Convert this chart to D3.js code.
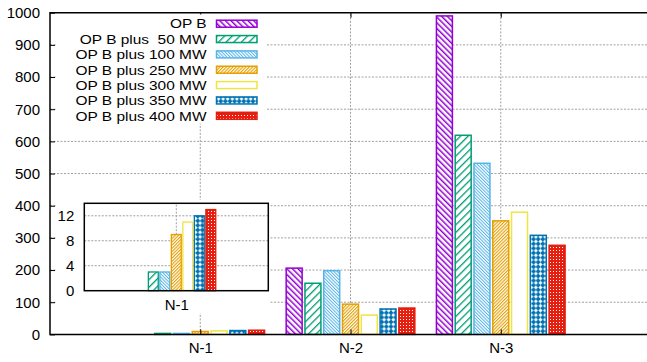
<!DOCTYPE html>
<html>
<head>
<meta charset="utf-8">
<script src="https://cdn.jsdelivr.net/npm/d3@7"></script>
<style>
  html, body { margin: 0; padding: 0; background: #fff; }
  svg { display: block; font-family: "Liberation Sans", Arial, Helvetica, sans-serif; }
  text { white-space: pre; }
</style>
</head>
<body>
<svg id="chart" width="647" height="362"></svg>
<script>
// ---------------- data ----------------
const categories = ["N-1", "N-2", "N-3"];
const seriesNames = ["OP B", "OP B plus  50 MW", "OP B plus 100 MW", "OP B plus 250 MW",
                     "OP B plus 300 MW", "OP B plus 350 MW", "OP B plus 400 MW"];
const opB      = [0, 206, 990];
const plus50   = [3, 159, 619];
const plus100  = [3, 198, 532];
const plus250  = [9, 94, 353];
const plus300  = [11, 60, 380];
const plus350  = [12, 79, 308];
const plus400  = [13, 82, 277];
const yTicks = [0, 100, 200, 300, 400, 500, 600, 700, 800, 900, 1000];
const insetCategories = ["N-1"];
const insetTicks = [0, 4, 8, 12];

const seriesValues = [opB, plus50, plus100, plus250, plus300, plus350, plus400];
const colors = ["#9400d3", "#009e73", "#56b4e9", "#e69f00", "#f0e442", "#0072b2", "#e51e10"];

// ---------------- setup ----------------
const svg = d3.select("#chart");
const FONT = 15;

const defs = svg.append("defs");
function stripes(id, color, period, width, angle) {
  const p = defs.append("pattern").attr("id", id).attr("patternUnits", "userSpaceOnUse")
    .attr("width", period).attr("height", period)
    .attr("patternTransform", `rotate(${angle})`);
  p.append("rect").attr("width", period).attr("height", period).attr("fill", "#fff");
  p.append("rect").attr("x", 0).attr("y", 0).attr("width", width).attr("height", period).attr("fill", color);
}
stripes("pat0", colors[0], 4.0, 1.5, -45);
stripes("pat1", colors[1], 5.4, 1.3, 45);
stripes("pat2", colors[2], 2.3, 1.0, -45);
stripes("pat3", colors[3], 2.3, 1.1, 45);
(function () {
  const p = defs.append("pattern").attr("id", "pat4").attr("patternUnits", "userSpaceOnUse")
    .attr("width", 4).attr("height", 4);
  p.append("rect").attr("width", 4).attr("height", 4).attr("fill", "#fff");
})();
(function () {
  const s = 4.6;
  const p = defs.append("pattern").attr("id", "pat5").attr("patternUnits", "userSpaceOnUse")
    .attr("width", s).attr("height", s);
  p.append("rect").attr("width", s).attr("height", s).attr("fill", colors[5]);
  p.append("rect").attr("x", s / 2 - 1.4).attr("y", s / 2 - 1.4).attr("width", 2.8).attr("height", 2.8)
    .attr("fill", "#fff").attr("transform", `rotate(45 ${s / 2} ${s / 2})`);
})();
(function () {
  const s = 3;
  const p = defs.append("pattern").attr("id", "pat6").attr("patternUnits", "userSpaceOnUse")
    .attr("width", s).attr("height", s);
  p.append("rect").attr("width", s).attr("height", s).attr("fill", colors[6]);
  p.append("rect").attr("x", 1).attr("y", 1).attr("width", 1).attr("height", 1).attr("fill", "#fff");
})();

const nS = seriesNames.length;
const slotFrac = 1 / (nS + 1);

// ---------------- main plot ----------------
const x = d3.scaleLinear().domain([0, 4]).range([50, 651]);
const y = d3.scaleLinear().domain([0, 1000]).range([334.4, 12.7]);
const catPos = (i) => i + 1;

const gridColor = "#a0a0a0";
const grid = svg.append("g");
grid.selectAll("line.h").data(yTicks.filter(t => t > 0 && t < 1000)).join("line")
  .attr("x1", x(0)).attr("x2", x(4)).attr("y1", d => y(d)).attr("y2", d => y(d))
  .attr("stroke", gridColor).attr("stroke-width", 1).attr("stroke-dasharray", "2,1.5");
grid.selectAll("line.v").data(categories).join("line")
  .attr("x1", (d, i) => x(catPos(i))).attr("x2", (d, i) => x(catPos(i)))
  .attr("y1", y(0)).attr("y2", y(1000))
  .attr("stroke", gridColor).attr("stroke-width", 1).attr("stroke-dasharray", "2,1.5");

// bars
const slotPx = x(slotFrac) - x(0);
const barW = slotPx * 0.85;
const bars = svg.append("g");
seriesValues.forEach((vals, s) => {
  bars.selectAll(null).data(vals.map((v, i) => ({ v, i })).filter(d => d.v > 0)).join("rect")
    .attr("x", d => x(catPos(d.i) + (s - (nS - 1) / 2) * slotFrac) - barW / 2)
    .attr("y", d => y(d.v))
    .attr("width", barW)
    .attr("height", d => y(0) - y(d.v))
    .attr("fill", `url(#pat${s})`)
    .attr("stroke", colors[s]).attr("stroke-width", 1.5);
});

// axes
const axisG = svg.append("g");
const yAxis = d3.axisLeft(y).tickValues(yTicks).tickSize(-5).tickPadding(10).tickFormat(d3.format("d"));
const ya = axisG.append("g").attr("transform", `translate(${x(0)},0)`).call(yAxis);
ya.select(".domain").remove();
ya.selectAll("line").attr("stroke", "#000");
ya.selectAll("text").attr("font-size", FONT).attr("fill", "#000").attr("font-family", null);

const xAxis = d3.axisBottom(x).tickValues(categories.map((c, i) => catPos(i)))
  .tickFormat((d, i) => categories[i]).tickSize(-5).tickPadding(8);
const xa = axisG.append("g").attr("transform", `translate(0,${y(0)})`).call(xAxis);
xa.select(".domain").remove();
xa.selectAll("line").attr("stroke", "#000");
xa.selectAll("text").attr("font-size", FONT).attr("fill", "#000").attr("font-family", null);

const xTop = d3.axisTop(x).tickValues(categories.map((c, i) => catPos(i))).tickFormat("").tickSize(-5);
const xt = axisG.append("g").attr("transform", `translate(0,${y(1000)})`).call(xTop);
xt.select(".domain").remove();
xt.selectAll("line").attr("stroke", "#000");

svg.append("path")
  .attr("d", `M${x(4)},${y(1000)}H${x(0)}V${y(0)}H${x(4)}`)
  .attr("fill", "none").attr("stroke", "#000").attr("stroke-width", 1.5);

// ---------------- legend ----------------
svg.append("rect").attr("x", 57).attr("y", 14.5).attr("width", 209).attr("height", 109).attr("fill", "#fff");
const leg = svg.append("g");
const rowY = (i) => 23.7 + i * 15.35;
const LEGFONT = 13.2;
const legText = leg.selectAll("text").data(seriesNames).join("text")
  .attr("x", 206.5).attr("y", (d, i) => rowY(i)).attr("dy", "0.36em")
  .attr("text-anchor", "end").attr("font-size", LEGFONT).text(d => d);
legText.each(function () {
  const len = this.getComputedTextLength();
  d3.select(this).attr("textLength", len * 1.17).attr("lengthAdjust", "spacingAndGlyphs");
});
leg.selectAll("rect").data(seriesNames).join("rect")
  .attr("x", 216.5).attr("y", (d, i) => rowY(i) - 3.5).attr("width", 40.5).attr("height", 7)
  .attr("fill", (d, i) => `url(#pat${i})`).attr("stroke", (d, i) => colors[i]).attr("stroke-width", 1.5);

// ---------------- inset ----------------
svg.append("rect").attr("x", 56).attr("y", 200).attr("width", 213).attr("height", 113).attr("fill", "#fff");
const xi = d3.scaleLinear().domain([0, 2]).range([84.3, 268.3]);
const yi = d3.scaleLinear().domain([0, 14]).range([290.7, 203.3]);
const inset = svg.append("g");
inset.selectAll("line.h").data(insetTicks.filter(t => t > 0)).join("line")
  .attr("x1", xi(0)).attr("x2", xi(2)).attr("y1", d => yi(d)).attr("y2", d => yi(d))
  .attr("stroke", gridColor).attr("stroke-width", 1).attr("stroke-dasharray", "2,1.5");
inset.selectAll("line.v").data(insetCategories).join("line")
  .attr("x1", xi(1)).attr("x2", xi(1)).attr("y1", yi(0)).attr("y2", yi(14))
  .attr("stroke", gridColor).attr("stroke-width", 1).attr("stroke-dasharray", "2,1.5");

const slotPxI = xi(slotFrac) - xi(0);
const barWI = slotPxI * 0.86;
seriesValues.forEach((vals, s) => {
  inset.selectAll(null).data([{ v: vals[0], i: 0 }].filter(d => d.v > 0)).join("rect")
    .attr("x", d => xi(1 + (s - (nS - 1) / 2) * slotFrac) - barWI / 2)
    .attr("y", d => yi(d.v))
    .attr("width", barWI)
    .attr("height", d => yi(0) - yi(d.v))
    .attr("fill", `url(#pat${s})`)
    .attr("stroke", colors[s]).attr("stroke-width", 1.3);
});

const yiAxis = d3.axisLeft(yi).tickValues(insetTicks).tickSize(0).tickPadding(10);
const yia = inset.append("g").attr("transform", `translate(${xi(0)},0)`).call(yiAxis);
yia.select(".domain").remove();
yia.selectAll("text").attr("font-size", FONT).attr("fill", "#000").attr("font-family", null);
const xiAxis = d3.axisBottom(xi).tickValues([1]).tickFormat(() => insetCategories[0]).tickSize(0).tickPadding(9);
const xia = inset.append("g").attr("transform", `translate(0,${yi(0)})`).call(xiAxis);
xia.select(".domain").remove();
xia.selectAll("text").attr("font-size", FONT).attr("fill", "#000").attr("font-family", null);

inset.append("rect").attr("x", xi(0)).attr("y", yi(14)).attr("width", xi(2) - xi(0)).attr("height", yi(0) - yi(14))
  .attr("fill", "none").attr("stroke", "#000").attr("stroke-width", 1.5);
</script>
</body>
</html>
